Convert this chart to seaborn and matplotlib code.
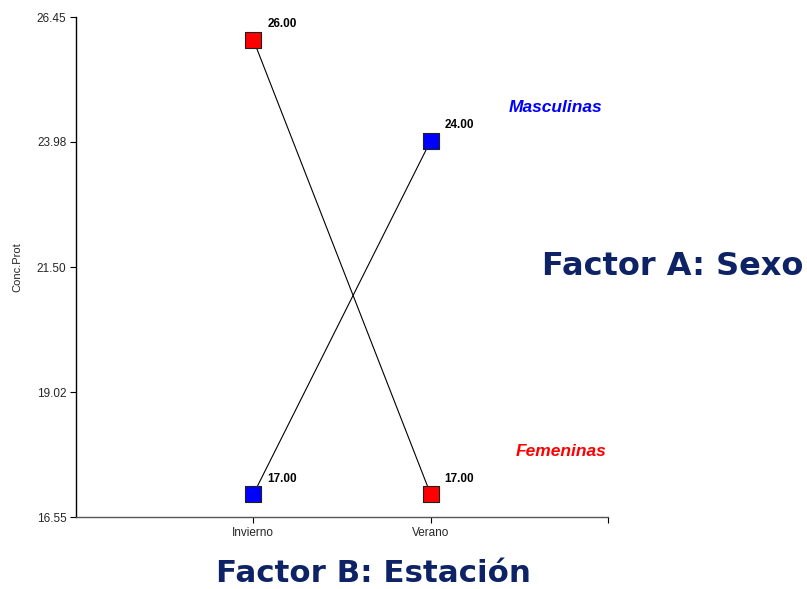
import matplotlib
matplotlib.use("Agg")
import matplotlib.pyplot as plt
import seaborn as sns
import pandas as pd

sns.set_theme(style="white")
plt.rcParams['font.family'] = ['Liberation Sans', 'DejaVu Sans']

# data
estaciones = ['Invierno', 'Verano']
masculinas = [17.00, 24.00]
femeninas = [26.00, 17.00]
y_ticks = [16.55, 19.02, 21.50, 23.98, 26.45]

df = pd.DataFrame({
    'Estacion': estaciones * 2,
    'Conc': masculinas + femeninas,
    'Sexo': ['Masculinas'] * 2 + ['Femeninas'] * 2,
})

fig = plt.figure(figsize=(8.07, 5.89), dpi=100)
ax = fig.add_axes([0.0942, 0.1222, 0.6592, 0.8489])

# black connecting lines
sns.lineplot(data=df, x='Estacion', y='Conc', hue='Sexo',
             palette={'Masculinas': 'black', 'Femeninas': 'black'},
             linewidth=0.8, legend=False, ax=ax, zorder=2)
# coloured square markers
sns.scatterplot(data=df, x='Estacion', y='Conc', hue='Sexo',
                palette={'Masculinas': '#0000ff', 'Femeninas': '#ff0000'},
                marker='s', s=135, edgecolor='#202020', linewidth=0.8,
                legend=False, ax=ax, zorder=3)

# value labels
for i, row in df.iterrows():
    xpos = estaciones.index(row['Estacion'])
    ax.annotate(f"{row['Conc']:.2f}", (xpos, row['Conc']),
                xytext=(10, 9), textcoords='offset points',
                fontsize=8.5, fontweight='bold', color='black')

ax.set_xlim(-1, 2)
ax.set_ylim(16.55, 26.45)
ax.set_xticks([0, 1, 2])
ax.set_xticklabels(estaciones + [''], fontsize=8.5)
ax.set_yticks(y_ticks)
ax.set_yticklabels([f"{v:.2f}" for v in y_ticks], fontsize=8.5)
ax.set_xlabel('')
ax.set_ylabel('Conc.Prot', fontsize=8, labelpad=10)

ax.tick_params(axis='both', direction='out', length=4, width=0.8,
               color='black', bottom=True, left=True, pad=3)
for s in ['top', 'right']:
    ax.spines[s].set_visible(False)
ax.spines['left'].set_color('black')
ax.spines['left'].set_linewidth(1.0)
ax.spines['bottom'].set_color('#555555')
ax.spines['bottom'].set_linewidth(1.0)
ax.grid(False)

# annotations
fig.text(0.688, 0.817, 'Masculinas', color='#0000ff', fontsize=12.5,
         fontweight='bold', fontstyle='italic', ha='center', va='center')
fig.text(0.695, 0.234, 'Femeninas', color='#ff0000', fontsize=12.5,
         fontweight='bold', fontstyle='italic', ha='center', va='center')
fig.text(0.834, 0.548, 'Factor A: Sexo', color='#0d2366', fontsize=23,
         fontweight='bold', ha='center', va='center',
         family=['DejaVu Sans'])
fig.text(0.463, 0.027, 'Factor B: Estación', color='#0d2366', fontsize=22.2,
         fontweight='bold', ha='center', va='center',
         family=['DejaVu Sans'])

fig.savefig('out.png', dpi=100)
